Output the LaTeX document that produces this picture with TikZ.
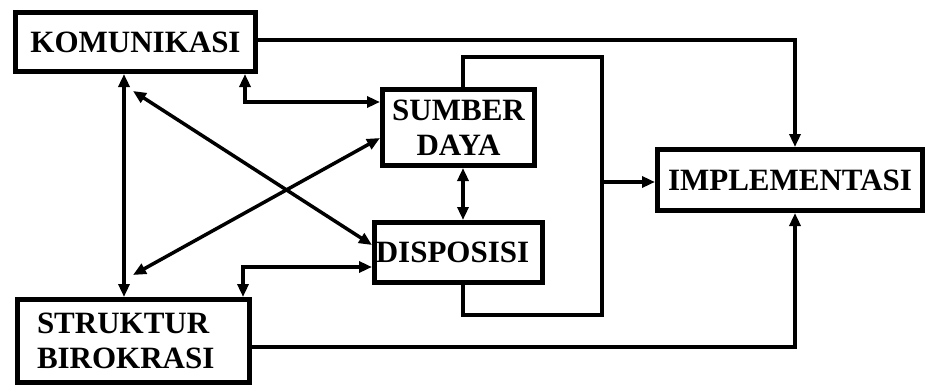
\documentclass[tikz,border=0pt]{standalone}
\usepackage{fontspec}
\setmainfont{Liberation Serif}
\usetikzlibrary{arrows.meta}
\tikzset{
  box/.style={draw, line width=5pt, rectangle, inner sep=0pt, align=center,
    font=\fontsize{31}{35}\selectfont\bfseries},
  conn/.style={line width=3.5pt, line join=miter},
  arr/.style={conn, -{Triangle[length=13pt,width=11pt]}},
  dbl/.style={conn, {Triangle[length=13pt,width=11pt]}-{Triangle[length=13pt,width=11pt]}}
}
\begin{document}
\begin{tikzpicture}[x=1pt,y=-1pt]
\useasboundingbox (0,0) rectangle (926,388);
\node[box, minimum width=240pt, minimum height=59pt] (kom) at (135.5,42) {KOMUNIKASI};
\node[box, minimum width=152pt, minimum height=76pt] (sd) at (458.5,127.5) {SUMBER\\DAYA};
\node[box, minimum width=168pt, minimum height=60pt] (disp) at (458.5,252.5) {\hspace{-12pt}DISPOSISI};
\node[box, minimum width=232pt, minimum height=83pt, text width=193pt, align=left, inner xsep=19.5pt] (str) at (133.5,341) {STRUKTUR\\BIROKRASI};
\node[box, minimum width=265pt, minimum height=61pt] (impl) at (790,180) {IMPLEMENTASI};
\coordinate (d1) at (133,91);
\coordinate (d2) at (133,275);
\coordinate (jr) at (602,182);
\draw[dbl] (124,0 |- kom.south) -- (124,0 |- str.north);
\draw[dbl] (d1) -- (disp.west |- 0,245);
\draw[dbl] (d2) -- (sd.west |- 0,138);
\draw[dbl] (245,0 |- kom.south) |- (sd.west |- 0,102);
\draw[dbl] (243,0 |- str.north) |- (disp.west |- 0,267);
\draw[dbl] (463,0 |- sd.south) -- (463,0 |- disp.north);
\draw[arr] (kom.east |- 0,40) -| (795,0 |- impl.north);
\draw[arr] (str.east |- 0,347) -| (795,0 |- impl.south);
\draw[conn] (463,0 |- sd.north) |- (602,57) -- (602,315) -| (463,0 |- disp.south);
\draw[arr] (jr) -- (impl.west |- jr);
\end{tikzpicture}
\end{document}
